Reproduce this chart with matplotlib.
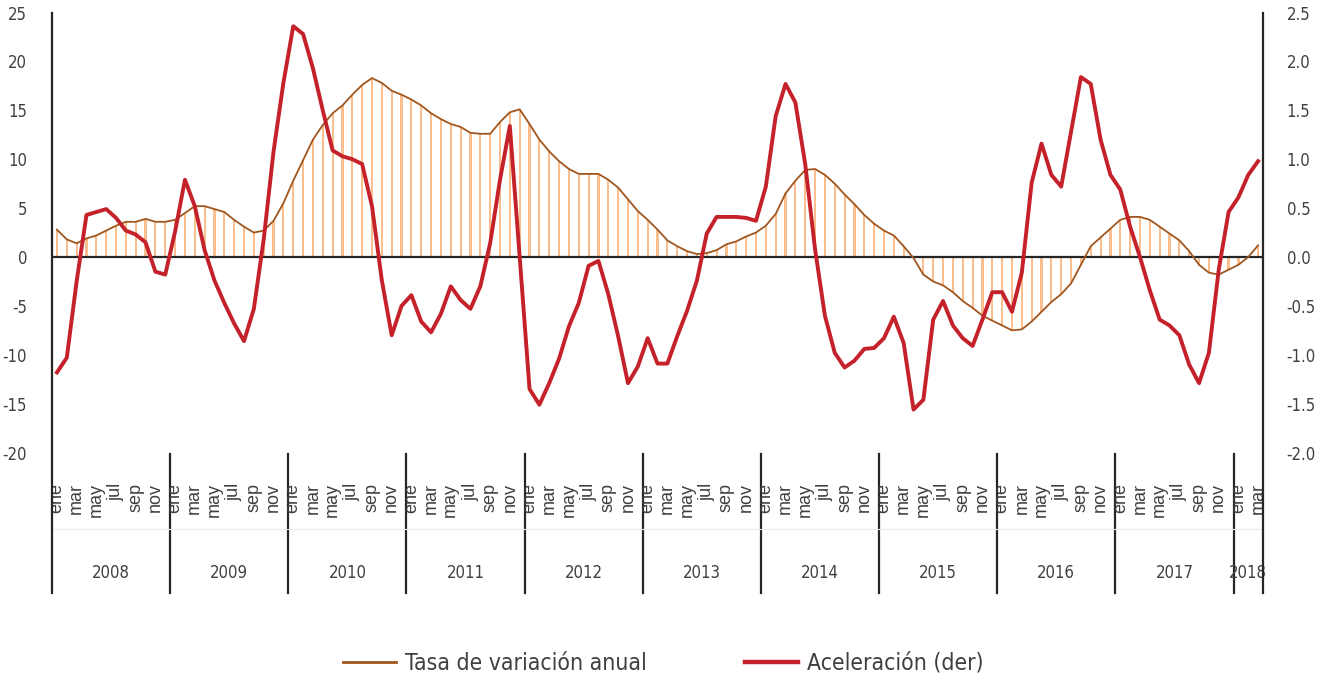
import numpy as np
import matplotlib.pyplot as plt
import matplotlib.transforms as mtransforms
from matplotlib.lines import Line2D

plt.rcParams['axes.unicode_minus'] = False
# fuente estrecha (parecida a Calibri); DejaVu Sans Condensed si existe
NARROW = dict(family=['DejaVu Sans'], stretch='condensed')
REGULAR = ['Liberation Sans', 'DejaVu Sans']
GRIS = '#404040'

# --- datos: ene 2008 - mar 2018 ---
anios = ['2008', '2009', '2010', '2011', '2012', '2013', '2014', '2015', '2016', '2017', '2018']
meses = ['ene', 'feb', 'mar', 'abr', 'may', 'jun', 'jul', 'ago', 'sep', 'oct', 'nov', 'dic']

tasa = [
    2.8, 1.8, 1.4, 1.9, 2.2, 2.7, 3.2, 3.6, 3.6, 3.9, 3.6, 3.6,
    3.8, 4.5, 5.2, 5.2, 4.9, 4.6, 3.8, 3.1, 2.5, 2.7, 3.7, 5.5,
    7.8, 9.9, 12.0, 13.5, 14.7, 15.5, 16.6, 17.6, 18.3, 17.8, 17.0, 16.6,
    16.1, 15.5, 14.7, 14.1, 13.6, 13.3, 12.7, 12.6, 12.6, 13.8, 14.8, 15.1,
    13.6, 12.0, 10.8, 9.8, 9.0, 8.5, 8.5, 8.5, 7.9, 7.1, 5.9, 4.7,
    3.8, 2.8, 1.7, 1.1, 0.6, 0.3, 0.4, 0.7, 1.3, 1.6, 2.1, 2.5,
    3.2, 4.4, 6.5, 7.8, 8.9, 9.0, 8.4, 7.5, 6.4, 5.4, 4.3, 3.4,
    2.7, 2.2, 1.1, -0.1, -1.8, -2.5, -2.9, -3.6, -4.5, -5.2, -6.0, -6.5,
    -7.0, -7.5, -7.4, -6.6, -5.6, -4.6, -3.8, -2.7, -0.8, 1.1, 2.0, 2.9,
    3.8, 4.1, 4.1, 3.8, 3.1, 2.4, 1.7, 0.6, -0.8, -1.6, -1.8, -1.3,
    -0.8, 0.0, 1.2,
]

acel = [
    -1.18, -1.03, -0.25, 0.43, 0.46, 0.49, 0.40, 0.27, 0.23, 0.15, -0.15, -0.18,
    0.26, 0.79, 0.52, 0.07, -0.24, -0.47, -0.68, -0.86, -0.53, 0.18, 1.08, 1.78,
    2.36, 2.28, 1.93, 1.50, 1.09, 1.03, 1.00, 0.95, 0.52, -0.24, -0.80, -0.50,
    -0.39, -0.66, -0.77, -0.58, -0.30, -0.44, -0.53, -0.30, 0.14, 0.79, 1.34, 0.00,
    -1.35, -1.51, -1.29, -1.04, -0.71, -0.47, -0.09, -0.04, -0.38, -0.81, -1.29, -1.12,
    -0.83, -1.09, -1.09, -0.81, -0.55, -0.24, 0.24, 0.41, 0.41, 0.41, 0.40, 0.37,
    0.72, 1.44, 1.77, 1.58, 0.95, 0.08, -0.60, -0.98, -1.13, -1.06, -0.94, -0.93,
    -0.83, -0.61, -0.88, -1.56, -1.46, -0.64, -0.45, -0.70, -0.83, -0.91, -0.64, -0.36,
    -0.36, -0.56, -0.16, 0.76, 1.16, 0.84, 0.72, 1.28, 1.84, 1.77, 1.20, 0.84,
    0.69, 0.31, 0.00, -0.34, -0.64, -0.70, -0.80, -1.10, -1.29, -0.98, -0.13, 0.46,
    0.61, 0.84, 0.98,
]

n = len(tasa)
x = np.arange(n)

fig = plt.figure(figsize=(13.27, 6.81), dpi=100)
ax = fig.add_axes([0.0392, 0.3354, 0.9126, 0.6462])

ax.bar(x, tasa, width=0.22, color='#FBBE8E', zorder=1)
ax.plot(x, tasa, color='#A0561F', lw=1.3, zorder=3)
ax.axhline(0, color='#262626', lw=1.6, zorder=2)
ax.set_xlim(-0.5, n - 0.5)
ax.set_ylim(-20, 25)
ax.set_yticks(range(-20, 26, 5))

ax2 = ax.twinx()
ax2.plot(x, acel, color='#C4212A', lw=2.8, zorder=4)
ax2.set_ylim(-2.0, 2.5)
ax2.set_yticks(np.arange(-2.0, 2.51, 0.5))
ax2.set_yticklabels([f'{v:.1f}' for v in np.arange(-2.0, 2.51, 0.5)])

for a in (ax, ax2):
    for s in a.spines.values():
        s.set_visible(False)
    a.set_xticks([])
ax.tick_params(axis='y', length=0, pad=18, labelcolor=GRIS)
ax2.tick_params(axis='y', length=0, pad=17, labelcolor=GRIS)
for lab in ax.get_yticklabels() + ax2.get_yticklabels():
    lab.set_family(NARROW['family'])
    lab.set_stretch(NARROW['stretch'])
    lab.set_fontsize(12)

# ejes verticales y separadores de años
low = -0.319
ax2.plot([0, 0], [low, 1], transform=ax2.transAxes, color='#262626', lw=1.6, clip_on=False)
ax2.plot([1, 1], [low, 1], transform=ax2.transAxes, color='#262626', lw=1.6, clip_on=False)
trans = mtransforms.blended_transform_factory(ax.transData, ax.transAxes)
for k in range(1, len(anios)):
    xs = 12 * k - 0.5
    ax.plot([xs, xs], [-0.004, low], transform=trans, color='#262626', lw=1.6, clip_on=False)
ax.plot([-0.5, n - 0.5], [-0.174, -0.174], transform=trans, color='#ececec', lw=0.8, clip_on=False)

# etiquetas de meses (cada dos meses) y años
for i in range(0, n, 2):
    ax.text(i, -0.069, meses[i % 12], transform=trans, rotation=90, ha='center', va='top',
            fontsize=13, family=REGULAR, color=GRIS)
for k, y in enumerate(anios):
    last = min(12 * k + 11, n - 1)
    ax.text((12 * k + last) / 2, -0.274, y, transform=trans, ha='center', va='center',
            fontsize=12, color=GRIS, **NARROW)

handles = [Line2D([], [], color='#A0561F', lw=2),
           Line2D([], [], color='#C4212A', lw=3.2)]
fig.legend(handles, ['Tasa de variación anual', 'Aceleración (der)'], loc='center',
           bbox_to_anchor=(0.5, 0.026), ncol=2, frameon=False,
           prop=dict(size=16.5, **NARROW), labelcolor=GRIS,
           handlelength=2.3, handletextpad=0.4, columnspacing=4.3)

fig.savefig('out.png', dpi=100)
